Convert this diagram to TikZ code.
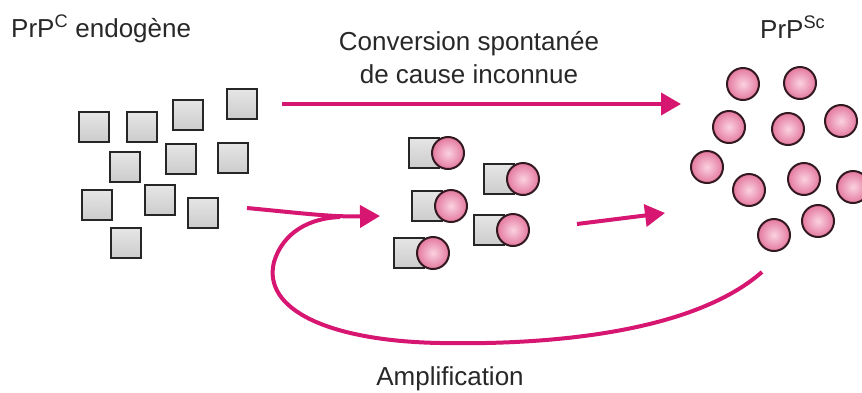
\documentclass[tikz,border=0pt]{standalone}
\usepackage{fontspec}
\setmainfont{Liberation Sans}
\usetikzlibrary{arrows.meta}
\definecolor{mag}{RGB}{214,22,112}
\definecolor{txt}{RGB}{40,40,40}
\definecolor{ballin}{RGB}{250,210,224}
\definecolor{ballout}{RGB}{228,120,158}
\definecolor{balledge}{RGB}{50,25,32}
\tikzset{
  sq/.style={draw=black!85, line width=2.2pt, minimum size=30pt, inner sep=0pt,
    shade, top color=black!10, bottom color=black!20},
  ball/.style={circle, draw=balledge, line width=2pt, minimum size=32pt, inner sep=0pt,
    shade, shading=radial, inner color=ballin, outer color=ballout},
  lbl/.style={font=\fontsize{26}{30}\selectfont, text=txt, inner sep=0pt},
  arr/.style={draw=mag, line width=4pt, -{Triangle[length=20pt,width=22pt]}},
  curv/.style={draw=mag, line width=4pt}
}
\begin{document}
\begin{tikzpicture}[x=1pt,y=-1pt]
\useasboundingbox (0,0) rectangle (862,392);
\clip (0,0) rectangle (862,392);
\fill[white] (0,0) rectangle (862,392);
% labels
\node[lbl, anchor=base west] (lc) at (11,37) {PrP\textsuperscript{C} endogène};
\node[lbl, anchor=base west] (lsc) at (760,38) {PrP\textsuperscript{Sc}};
\node[lbl, anchor=base] (t1) at (469,50) {Conversion spontanée};
\node[lbl, anchor=base] (t2) at (469,83) {de cause inconnue};
\node[lbl, anchor=base] (amp) at (450,385) {Amplification};
% PrPC squares
\node[sq] (s1) at (94,127) {};
\node[sq] (s2) at (142,127) {};
\node[sq] (s3) at (188,115) {};
\node[sq] (s4) at (242,104) {};
\node[sq] (s5) at (125,167) {};
\node[sq] (s6) at (181,159) {};
\node[sq] (s7) at (233,158) {};
\node[sq] (s8) at (97,205) {};
\node[sq] (s9) at (160,200) {};
\node[sq] (s10) at (203,213) {};
\node[sq] (s11) at (126,243) {};
% pairs
\foreach \i/\x/\y in {1/448/153, 2/523/179, 3/451/206, 4/513/230, 5/433/253}{
  \node[sq] (ps\i) at (\x-24,\y) {};
  \node[ball] (pc\i) at (\x,\y) {};
}
% PrPSc balls
\node[ball] (b1) at (743,84) {};
\node[ball] (b2) at (800,83) {};
\node[ball] (b3) at (729,127) {};
\node[ball] (b4) at (788,129) {};
\node[ball] (b5) at (841,121) {};
\node[ball] (b6) at (707,167) {};
\node[ball] (b7) at (749,190) {};
\node[ball] (b8) at (804,179) {};
\node[ball] (b9) at (853,187) {};
\node[ball] (b10) at (818,221) {};
\node[ball] (b11) at (774,235) {};
% arrows
\coordinate (a1s) at (282,104);
\coordinate (a1e) at (681,104);
\draw[arr] (a1s) -- (a1e);
\coordinate (a2s) at (247,208);
\coordinate (a2e) at (380,216);
\draw[arr] (a2s) .. controls (300,213) and (330,217) .. (a2e);
\coordinate (a3s) at (577,224);
\coordinate (a3e) at (665,213);
\draw[arr] (a3s) -- (a3e);
\coordinate (ls) at (762,272);
\coordinate (lm) at (340,217);
\draw[curv] (ls) .. controls (690,335) and (540,345) .. (440,343)
  .. controls (330,341) and (262,310) .. (274,262)
  .. controls (283,232) and (310,218) .. (lm);
\end{tikzpicture}
\end{document}
